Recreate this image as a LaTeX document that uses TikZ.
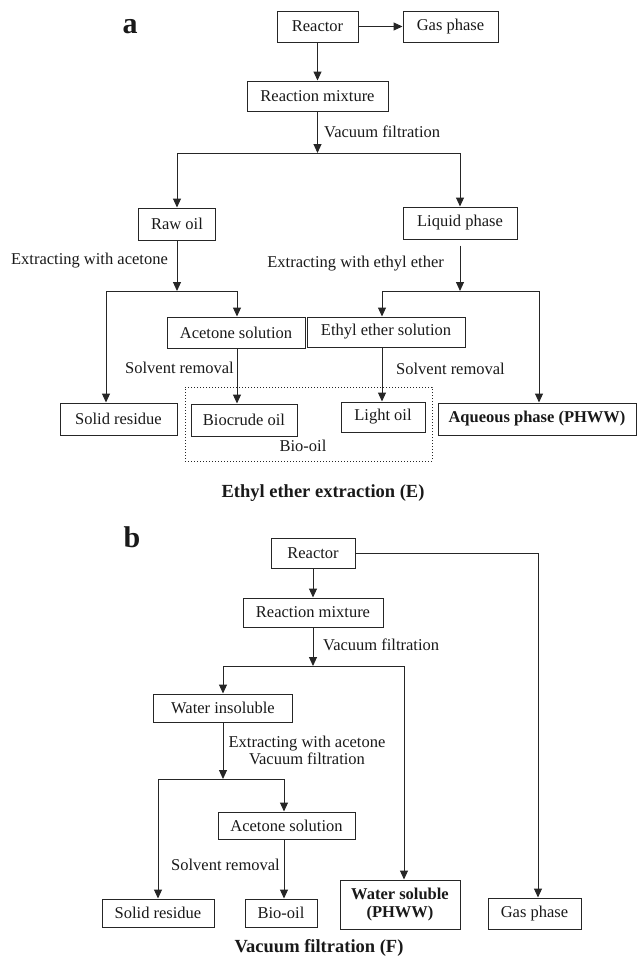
\documentclass[tikz,border=0pt]{standalone}
\usepackage{fontspec}
\setmainfont{Liberation Serif}
\usetikzlibrary{arrows.meta}
\begin{document}
\begin{tikzpicture}[x=1pt,y=-1pt,
  every node/.style={font=\fontsize{16.5}{17}\selectfont, text=black!90},
  box/.style={draw=black!85, line width=1pt, inner sep=0pt},
  lbl/.style={inner sep=0pt},
  bftxt/.style={font=\fontsize{16.5}{18}\selectfont\bfseries},
  arr/.style={draw=black!85, line width=1pt, -{Triangle[length=9pt,width=8pt]}},
  ln/.style={draw=black!85, line width=1pt},
  big/.style={font=\fontsize{30}{30}\selectfont\bfseries, inner sep=0pt},
  captxt/.style={font=\fontsize{18.5}{20}\selectfont\bfseries, inner sep=0pt},
  dotbox/.style={draw=black!85, dotted, line width=1pt, inner sep=0pt}
]
\useasboundingbox (0,0) rectangle (638,967);

% ---------------- panel a ----------------
\node[big] (la) at (130,27) {a};
\node[box, minimum width=81pt, minimum height=31pt] (ra) at (317.5,26.5) {Reactor};
\node[box, minimum width=95pt, minimum height=31pt] (ga) at (450.5,26.5) {Gas phase};
\node[box, minimum width=141pt, minimum height=30pt] (rma) at (317.5,96) {Reaction mixture};
\node[lbl, anchor=west] (vfa) at (324,132) {Vacuum filtration};
\coordinate (ba) at (317.5,153);
\coordinate (bal) at (177,153);
\coordinate (bar) at (460,153);
\node[box, minimum width=77pt, minimum height=32pt] (ro) at (177,224) {Raw oil};
\node[box, minimum width=114pt, minimum height=32pt] (lp) at (460,223) {Liquid phase};
\node[lbl, anchor=east] (ewa) at (168,261) {Extracting with acetone};
\node[lbl, anchor=east] (ewe) at (444,264) {Extracting with ethyl ether};
\coordinate (bb) at (177,291);
\coordinate (bbl) at (106,291);
\coordinate (bbr) at (237,291);
\coordinate (bc) at (460,291);
\coordinate (bcl) at (382,291);
\coordinate (bcr) at (539,291);
\node[box, minimum width=138pt, minimum height=31pt] (acs) at (236,332.5) {Acetone solution};
\node[box, minimum width=158pt, minimum height=30pt] (ees) at (386,332) {Ethyl ether solution};
\node[lbl, anchor=east] (sr1) at (234,368) {Solvent removal};
\node[lbl, anchor=west] (sr2) at (396,369) {Solvent removal};
\node[dotbox, minimum width=247pt, minimum height=74pt] (biobox) at (308.5,424) {};
\node[box, minimum width=117pt, minimum height=32pt] (sol) at (118.5,419) {Solid residue};
\node[box, minimum width=106pt, minimum height=32pt] (bco) at (244,420) {Biocrude oil};
\node[box, minimum width=84pt, minimum height=30pt] (lo) at (383,417) {Light oil};
\node[box, bftxt, minimum width=198pt, minimum height=32pt] (aq) at (537,419) {Aqueous phase (PHWW)};
\node[lbl] (biol) at (303,446) {Bio-oil};
\node[captxt] (capE) at (323,493) {Ethyl ether extraction (E)};

\draw[arr] (ra) -- (ga);
\draw[arr] (ra) -- (rma);
\draw[arr] (rma) -- (ba);
\draw[ln] (bal) -- (bar);
\draw[arr] (bal) -- (ro);
\draw[arr] (bar) -- (lp);
\draw[arr] (ro) -- (bb);
\draw[ln] (bbl) -- (bbr);
\draw[arr] (bbl) -- (bbl |- sol.north);
\draw[arr] (bbr) -- (bbr |- acs.north);
\draw[arr] ([yshift=-6pt]lp.south) -- (bc);
\draw[ln] (bcl) -- (bcr);
\draw[arr] (bcl) -- (bcl |- ees.north);
\draw[arr] (bcr) -- (bcr |- aq.north);
\draw[arr] (acs.south -| bbr) -- (bbr |- bco.north);
\draw[arr] (ees.south -| bcl) -- (bcl |- lo.north);

% ---------------- panel b ----------------
\node[big] (lb) at (132,537) {b};
\node[box, minimum width=84pt, minimum height=30pt] (rb) at (313,553) {Reactor};
\node[box, minimum width=140pt, minimum height=29pt] (rmb) at (313,612.5) {Reaction mixture};
\node[lbl, anchor=west] (vfb) at (323,645) {Vacuum filtration};
\coordinate (bd) at (313,666);
\coordinate (bdl) at (223,666);
\coordinate (bdr) at (404,666);
\node[box, minimum width=139pt, minimum height=28pt] (wi) at (223,708) {Water insoluble};
\node[lbl, align=center] (ewb) at (307,750.5) {Extracting with acetone\\Vacuum filtration};
\coordinate (be) at (223,779);
\coordinate (bel) at (158,779);
\coordinate (ber) at (284,779);
\node[box, minimum width=137pt, minimum height=27pt] (acb) at (286.5,825.5) {Acetone solution};
\node[lbl, anchor=east] (srb) at (280,865) {Solvent removal};
\node[box, minimum width=112pt, minimum height=28pt] (solb) at (158,913) {Solid residue};
\node[box, minimum width=72pt, minimum height=28pt] (bio2) at (281,913) {Bio-oil};
\node[box, bftxt, align=center, minimum width=120pt, minimum height=49pt] (ws) at (400,904.5) {Water soluble\\(PHWW)};
\node[box, minimum width=93pt, minimum height=31pt] (gb) at (534.5,913.5) {Gas phase};
\coordinate (gc) at (538,553);
\node[captxt] (capF) at (319,948) {Vacuum filtration (F)};

\draw[arr] (rb) -- (rmb);
\draw[arr] (rmb) -- (bd);
\draw[ln] (bdl) -- (bdr);
\draw[arr] (bdl) -- (wi);
\draw[arr] (bdr) -- (bdr |- ws.north);
\draw[arr] (wi) -- (be);
\draw[ln] (bel) -- (ber);
\draw[arr] (bel) -- (bel |- solb.north);
\draw[arr] (ber) -- (ber |- acb.north);
\draw[arr] (acb.south -| ber) -- (ber |- bio2.north);
\draw[arr] (rb.east) -- (gc) -- (gc |- gb.north);
\end{tikzpicture}
\end{document}
